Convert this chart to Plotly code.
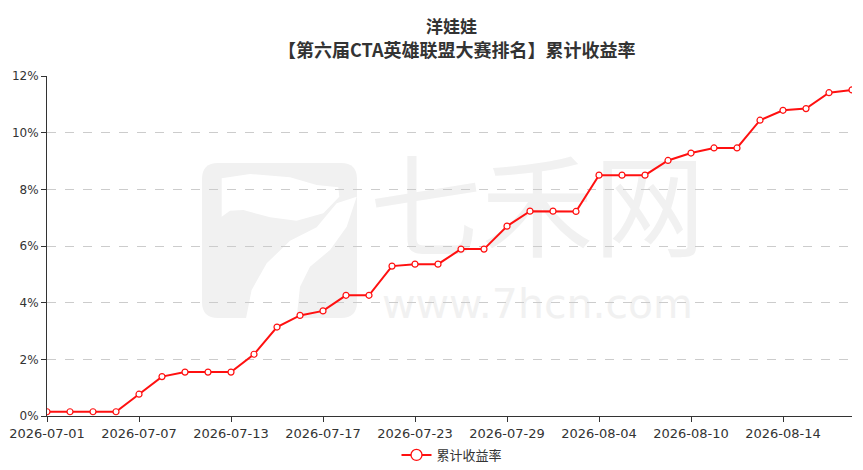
import plotly.graph_objects as go

dates = ["2026-07-01", "2026-07-02", "2026-07-03", "2026-07-06", "2026-07-07",
         "2026-07-08", "2026-07-09", "2026-07-10", "2026-07-13", "2026-07-14",
         "2026-07-15", "2026-07-16", "2026-07-17", "2026-07-20", "2026-07-21",
         "2026-07-22", "2026-07-23", "2026-07-24", "2026-07-27", "2026-07-28",
         "2026-07-29", "2026-07-30", "2026-07-31", "2026-08-03", "2026-08-04",
         "2026-08-05", "2026-08-06", "2026-08-07", "2026-08-10", "2026-08-11",
         "2026-08-12", "2026-08-13", "2026-08-14", "2026-08-17", "2026-08-18",
         "2026-08-19"]
returns_pct = [0.15, 0.15, 0.15, 0.15, 0.77, 1.39, 1.55, 1.55, 1.55, 2.18,
               3.14, 3.55, 3.71, 4.26, 4.26, 5.29, 5.36, 5.36, 5.89, 5.89,
               6.70, 7.23, 7.23, 7.22, 8.50, 8.50, 8.50, 9.02, 9.28, 9.46,
               9.46, 10.44, 10.79, 10.85, 11.41, 11.51]
tick_labels = dates[::4]
y_ticks = [0, 2, 4, 6, 8, 10, 12]
y_tick_text = [f"{v}%" for v in y_ticks]
series_name = "累计收益率"
title_main = "洋娃娃"
title_sub = "【第六届CTA英雄联盟大赛排名】累计收益率"

CJK = "Noto Sans CJK SC"
LAT = "DejaVu Sans"
RED = "#ff1010"
WM = "#f1f1f1"

# plot area in pixels (for placing decoration)
PL, PR, PT, PB = 47, 852, 76, 416


def px(x):
    return (x - PL) / (PR - PL)


def py(y):
    return (PB - y) / (PB - PT)


def path_from(points):
    pts = [(190 + zx / 3, 150 + zy / 3) for zx, zy in points]
    s = "M " + " L ".join(f"{px(a):.4f},{py(b):.4f}" for a, b in pts) + " Z"
    return s


fig = go.Figure()
fig.add_trace(go.Scatter(
    x=dates, y=returns_pct, name=series_name, mode="lines+markers",
    line=dict(color=RED, width=2),
    marker=dict(symbol="circle", size=6, color="white",
                line=dict(color=RED, width=1.2)),
    showlegend=False,
))
# legend entry (larger symbol like the original legend icon)
fig.add_trace(go.Scatter(
    x=[None], y=[None], name=series_name, mode="lines+markers",
    line=dict(color=RED, width=2),
    marker=dict(symbol="circle", size=11, color="white",
                line=dict(color=RED, width=1.3)),
    showlegend=True,
))

shapes = []
# watermark logo: rounded square with a white "7" cut
x0, x1, y0, y1, r = 202, 357, 163, 318, 16
logo = (f"M {px(x0 + r)},{py(y0)} L {px(x1 - r)},{py(y0)} "
        f"Q {px(x1)},{py(y0)} {px(x1)},{py(y0 + r)} L {px(x1)},{py(y1 - r)} "
        f"Q {px(x1)},{py(y1)} {px(x1 - r)},{py(y1)} L {px(x0 + r)},{py(y1)} "
        f"Q {px(x0)},{py(y1)} {px(x0)},{py(y1 - r)} L {px(x0)},{py(y0 + r)} "
        f"Q {px(x0)},{py(y0)} {px(x0 + r)},{py(y0)} Z")
shapes.append(dict(type="path", xref="paper", yref="paper", path=logo,
                   fillcolor=WM, line=dict(width=0), layer="below"))
cut1 = [(95, 85), (180, 72), (300, 82), (380, 105), (445, 112), (448, 140),
        (400, 190), (320, 212), (240, 202), (160, 180), (120, 182), (95, 200)]
cut2 = [(500, 140), (470, 230), (420, 300), (360, 350), (330, 410), (320, 505),
        (168, 505), (185, 420), (230, 340), (300, 272), (380, 232), (440, 160)]
for c in (cut1, cut2):
    shapes.append(dict(type="path", xref="paper", yref="paper", path=path_from(c),
                       fillcolor="white", line=dict(width=0), layer="below"))
# watermark texts (as shape labels so they sit beneath the gridlines)
shapes.append(dict(type="rect", xref="paper", yref="paper",
                   x0=px(370), x1=px(705), y0=py(275), y1=py(160),
                   line=dict(width=0), fillcolor="rgba(0,0,0,0)", layer="below",
                   label=dict(text="七禾网", textposition="middle center",
                              font=dict(family=CJK, size=112, color=WM))))
shapes.append(dict(type="rect", xref="paper", yref="paper",
                   x0=px(370), x1=px(705), y0=py(322), y1=py(280),
                   line=dict(width=0), fillcolor="rgba(0,0,0,0)", layer="below",
                   label=dict(text="www.7hcn.com", textposition="middle center",
                              font=dict(family=LAT, size=41, color=WM))))

fig.add_annotation(text=f"<b>{title_main}</b>", xref="paper", yref="paper",
                   x=px(452), y=py(25), xanchor="center", yanchor="middle",
                   showarrow=False, font=dict(family=CJK, size=17, color="#333333"))
fig.add_annotation(text=f"<b>{title_sub}</b>", xref="paper", yref="paper",
                   x=px(457), y=py(48.5), xanchor="center", yanchor="middle",
                   showarrow=False, font=dict(family=CJK, size=18, color="#333333"))

fig.update_layout(
    width=863, height=470,
    margin=dict(l=PL, r=863 - PR, t=PT, b=470 - PB, autoexpand=False),
    paper_bgcolor="white", plot_bgcolor="white",
    font=dict(family=CJK, color="#333333", size=12),
    shapes=shapes,
    showlegend=True,
    legend=dict(orientation="h", x=px(452), xanchor="center", y=py(455), yanchor="middle",
                font=dict(family=CJK, size=13, color="#333333"),
                bgcolor="rgba(0,0,0,0)"),
    xaxis=dict(
        type="category", range=[0, len(dates) - 1], automargin=False,
        tickmode="array", tickvals=tick_labels, ticktext=tick_labels,
        showgrid=False, showline=True, linecolor="#333333", linewidth=1,
        ticks="outside", ticklen=5, tickcolor="#333333",
        tickfont=dict(family=LAT, size=13, color="#333333"),
        zeroline=False,
    ),
    yaxis=dict(
        range=[0, 12], tickmode="array", tickvals=y_ticks, ticktext=y_tick_text,
        automargin=False,
        showgrid=True, gridcolor="#cccccc", griddash="dash", gridwidth=1,
        showline=True, linecolor="#333333", linewidth=1,
        ticks="outside", ticklen=5, tickcolor="#333333",
        tickfont=dict(family=LAT, size=12, color="#333333"),
        zeroline=False,
    ),
)

fig.write_html("out.html", config={"displayModeBar": False},
               post_script="document.body.style.margin='0';document.body.style.overflow='hidden';")
